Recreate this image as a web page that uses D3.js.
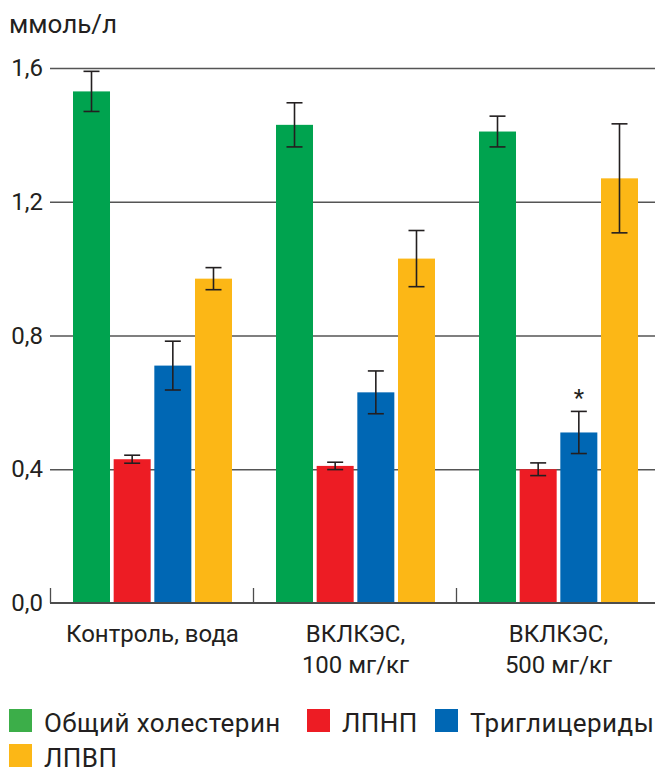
<!DOCTYPE html>
<html>
<head>
<meta charset="utf-8">
<script src="https://cdn.jsdelivr.net/npm/d3@7"></script>
<style>
  body { margin: 0; background: #fff; }
  svg text { font-family: Roboto, "Open Sans", sans-serif; fill: #231f20; }
</style>
</head>
<body>
<svg id="chart" width="655" height="774"></svg>
<script>
/* data */
const groupLabels = [["Контроль, вода"], ["ВКЛКЭС,", "100 мг/кг"], ["ВКЛКЭС,", "500 мг/кг"]];
const seriesNames = ["Общий холестерин", "ЛПНП", "Триглицериды", "ЛПВП"];
const seriesColors = ["#00a34f", "#ed1c24", "#0067b4", "#fcb716"];
const legendColors = ["#3cae49", "#ed1c24", "#0067b4", "#fcb716"];

const cholesterol = [1.53, 1.43, 1.41];
const ldl = [0.43, 0.41, 0.40];
const triglycerides = [0.71, 0.63, 0.51];
const hdl = [0.97, 1.03, 1.27];

const cholesterolErr = [0.06, 0.066, 0.046];
const ldlErr = [0.012, 0.011, 0.019];
const triglyceridesErr = [0.073, 0.064, 0.063];
const hdlErr = [0.033, 0.084, 0.163];

const yTicks = [0, 0.4, 0.8, 1.2, 1.6];
const yTitle = "ммоль/л";
// significance marks: [group index, series index, symbol]
const marks = [[2, 2, "*"]];

const values = [cholesterol, ldl, triglycerides, hdl];
const errors = [cholesterolErr, ldlErr, triglyceridesErr, hdlErr];

/* layout */
const width = 655;
const margin = { left: 50, top: 68, baseline: 603 };
const textColor = "#231f20";

const svg = d3.select("#chart");

const x0 = d3.scaleBand()
    .domain(d3.range(groupLabels.length))
    .range([margin.left, margin.left + 203 * groupLabels.length]);

const x1 = d3.scaleBand()
    .domain(d3.range(seriesNames.length))
    .range([23, 182])
    .paddingInner(0.09);

const y = d3.scaleLinear()
    .domain([0, 1.6])
    .range([margin.baseline, margin.top]);

/* grid + y labels */
const yAxis = d3.axisLeft(y)
    .tickValues(yTicks)
    .tickSize(-(width - margin.left))
    .tickPadding(7)
    .tickFormat(d => d3.format(".1f")(d).replace(".", ","));

const yg = svg.append("g")
    .attr("transform", "translate(" + margin.left + ",0)")
    .call(yAxis);
yg.select(".domain").remove();
yg.selectAll(".tick line")
    .attr("stroke", "#555")
    .attr("stroke-width", 1.3)
    .attr("display", d => d === 0 ? "none" : null);
yg.selectAll(".tick text")
    .attr("font-size", 24)
    .attr("fill", textColor)
    .style("font-family", "Roboto, sans-serif");

svg.append("text")
    .attr("x", 9)
    .attr("y", 33)
    .attr("font-size", 26)
    .text(yTitle);

/* bars */
const rows = [];
groupLabels.forEach((g, gi) => {
    seriesNames.forEach((s, si) => {
        rows.push({ g: gi, s: si, v: values[si][gi], e: errors[si][gi] });
    });
});

svg.append("g").selectAll("rect")
    .data(rows)
    .enter()
    .append("rect")
    .attr("x", d => x0(d.g) + x1(d.s))
    .attr("width", x1.bandwidth())
    .attr("y", d => y(d.v))
    .attr("height", d => y(0) - y(d.v))
    .attr("fill", d => seriesColors[d.s]);

/* error bars */
const capHalf = 8;
const eg = svg.append("g")
    .attr("stroke", textColor)
    .attr("stroke-width", 1.6)
    .selectAll("g")
    .data(rows)
    .enter()
    .append("g")
    .attr("transform", d => "translate(" + (x0(d.g) + x1(d.s) + x1.bandwidth() / 2) + ",0)");

eg.append("line")
    .attr("y1", d => y(d.v + d.e))
    .attr("y2", d => y(d.v - d.e));
eg.append("line")
    .attr("x1", -capHalf).attr("x2", capHalf)
    .attr("y1", d => y(d.v + d.e)).attr("y2", d => y(d.v + d.e));
eg.append("line")
    .attr("x1", -capHalf).attr("x2", capHalf)
    .attr("y1", d => y(d.v - d.e)).attr("y2", d => y(d.v - d.e));

/* significance */
svg.append("g").selectAll("text")
    .data(marks)
    .enter()
    .append("text")
    .attr("x", d => x0(d[0]) + x1(d[1]) + x1.bandwidth() / 2)
    .attr("y", d => y(values[d[1]][d[0]] + errors[d[1]][d[0]]) - 5)
    .attr("text-anchor", "middle")
    .attr("font-size", 24)
    .text(d => d[2]);

/* baseline + group ticks */
svg.append("line")
    .attr("x1", margin.left)
    .attr("x2", width)
    .attr("y1", y(0))
    .attr("y2", y(0))
    .attr("stroke", "#4d4d4d")
    .attr("stroke-width", 2);

svg.append("g").selectAll("line")
    .data(d3.range(groupLabels.length))
    .enter()
    .append("line")
    .attr("x1", d => x0(d) + 0.5)
    .attr("x2", d => x0(d) + 0.5)
    .attr("y1", y(0))
    .attr("y2", y(0) - 15)
    .attr("stroke", "#4d4d4d")
    .attr("stroke-width", 1.3);

/* group labels */
const gl = svg.append("g").selectAll("text")
    .data(groupLabels)
    .enter()
    .append("text")
    .attr("text-anchor", "middle")
    .attr("font-size", 24)
    .attr("x", (d, i) => x0(i) + x1(0) + (x1(seriesNames.length - 1) + x1.bandwidth() - x1(0)) / 2);

gl.selectAll("tspan")
    .data(d => d)
    .enter()
    .append("tspan")
    .attr("x", function () { return d3.select(this.parentNode).attr("x"); })
    .attr("y", (d, i) => 642 + i * 31)
    .text(d => d);

/* legend */
const legendPos = [[9, 709], [307, 709], [435, 709], [9, 744]];
const lg = svg.append("g").selectAll("g")
    .data(seriesNames)
    .enter()
    .append("g")
    .attr("transform", (d, i) => "translate(" + legendPos[i][0] + "," + legendPos[i][1] + ")");

lg.append("rect")
    .attr("width", 23)
    .attr("height", 23)
    .attr("fill", (d, i) => legendColors[i]);

lg.append("text")
    .attr("x", 35)
    .attr("y", 22.5)
    .attr("font-size", 26)
    .attr("letter-spacing", 0.45)
    .text(d => d);
</script>
</body>
</html>
